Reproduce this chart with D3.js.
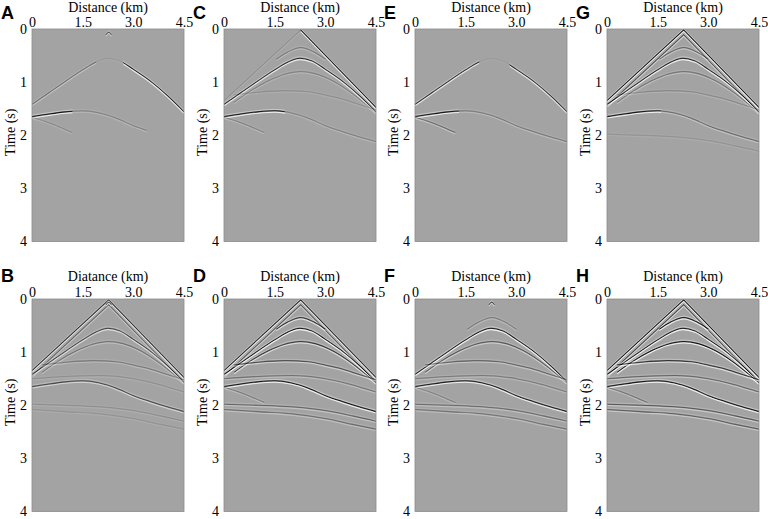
<!DOCTYPE html>
<html>
<head>
<meta charset="utf-8">
<script src="https://cdn.jsdelivr.net/npm/d3@7"></script>
<style>
  body { margin: 0; background: #fff; }
  svg { display: block; }
  .serif { font-family: "Liberation Serif", "Times New Roman", Times, "DejaVu Serif", serif; }
</style>
</head>
<body>
<svg id="fig"></svg>
<script>
const width = 768;
const height = 519;

// Axis ticks
const distTicks = [0, 1.5, 3.0, 4.5];
const distTickLabels = ["0", "1.5", "3.0", "4.5"];
const timeTicks = [0, 1, 2, 3, 4];

// Panel order: top row then bottom row
const panelIds = ["A", "C", "E", "G", "B", "D", "F", "H"];
const xTitles = ["Distance (km)", "Distance (km)", "Distance (km)", "Distance (km)",
                 "Diatance (km)", "Distance (km)", "Distance (km)", "Distance (km)"];

// Event traces: [distance km, time s]
const directWave  = [[0, 1.35], [2.27, 0.02], [4.5, 1.48]];
const directWave2 = [[0, 1.45], [2.27, 0.11], [4.5, 1.57]];
const apexBlip    = [[2.19, 0.11], [2.27, 0.06], [2.35, 0.11]];
const refl035 = [[1.55, 0.57], [1.9, 0.43], [2.27, 0.35], [2.65, 0.43], [3.0, 0.57]];
const refl055 = [[0, 1.42], [0.5, 1.2], [1.0, 0.98], [1.5, 0.77], [1.9, 0.62], [2.25, 0.55],
                 [2.6, 0.6], [3.0, 0.76], [3.5, 0.98], [4.0, 1.25], [4.5, 1.56]];
const refl080 = [[0.3, 1.38], [0.8, 1.16], [1.3, 0.98], [1.8, 0.85], [2.27, 0.8],
                 [2.7, 0.84], [3.2, 0.97], [3.7, 1.17], [4.2, 1.42], [4.5, 1.58]];
const refl120 = [[0.3, 1.24], [1.0, 1.19], [1.8, 1.16], [2.5, 1.18], [2.9, 1.23],
                 [3.4, 1.3], [4.0, 1.42], [4.5, 1.52]];
const refl145 = [[0, 1.5], [1.0, 1.46], [2.0, 1.44], [3.0, 1.5], [3.7, 1.6], [4.5, 1.75]];
const reflMain = [[0, 1.65], [0.5, 1.6], [1.0, 1.56], [1.5, 1.54], [2.0, 1.58], [2.5, 1.68],
                  [3.0, 1.82], [3.5, 1.93], [4.0, 2.03], [4.5, 2.12]];
const diffLimb = [[0, 1.66], [0.4, 1.74], [0.8, 1.84], [1.2, 1.95]];
const reflDeep1 = [[0, 1.98], [1.0, 2.0], [2.0, 2.03], [3.0, 2.1], [3.8, 2.2], [4.5, 2.3]];
const reflDeep2 = [[0, 2.08], [1.0, 2.12], [2.0, 2.16], [3.0, 2.25], [3.8, 2.36], [4.5, 2.45]];

const traces = { directWave, directWave2, apexBlip, refl035, refl055, refl080, refl120,
                 refl145, reflMain, diffLimb, reflDeep1, reflDeep2 };
const straightTraces = ["directWave", "directWave2"];

// Per panel: [trace, amplitude, from km, to km]
const panelA = [["apexBlip", 0.6, 0, 4.5], ["refl055", 0.4, 0, 1.9], ["refl055", 0.08, 1.9, 2.7],
                ["refl055", 0.95, 2.7, 4.5], ["reflMain", 1, 0, 1.2], ["reflMain", 0.25, 1.2, 3.4],
                ["diffLimb", 0.2, 0, 1.2]];
const panelC = [["directWave", 0.15, 0, 2.27], ["directWave", 1, 2.27, 4.5], ["refl035", 0.3, 0, 4.5],
                ["refl055", 0.9, 0, 4.5], ["refl080", 0.25, 0, 4.5], ["refl120", 0.15, 0, 4.5],
                ["reflMain", 1, 0, 1.8], ["reflMain", 0.25, 1.8, 4.5], ["diffLimb", 0.25, 0, 1.2]];
const panelE = [["refl055", 0.85, 0, 1.9], ["refl055", 0.85, 2.8, 4.5], ["refl055", 0.06, 1.9, 2.8],
                ["reflMain", 1, 0, 1.3], ["reflMain", 0.3, 1.3, 4.5], ["diffLimb", 0.4, 0, 1.2]];
const panelG = [["directWave", 1, 0, 4.5], ["directWave2", 0.6, 0, 4.5], ["refl035", 0.45, 0, 4.5],
                ["refl055", 0.95, 0, 4.5], ["refl080", 0.35, 0, 4.5], ["refl120", 0.2, 0, 4.5],
                ["reflMain", 1, 0, 1.6], ["reflMain", 0.4, 1.6, 4.5], ["reflDeep1", 0.12, 0, 4.5]];
const panelB = [["directWave", 0.85, 0, 4.5], ["directWave2", 0.45, 0, 4.5], ["apexBlip", 0.8, 0, 4.5],
                ["refl055", 0.7, 0, 4.5], ["refl080", 0.35, 0, 4.5], ["refl120", 0.3, 0, 4.5],
                ["refl145", 0.15, 0, 4.5], ["reflMain", 0.65, 0, 4.5], ["reflDeep1", 0.15, 0, 4.5],
                ["reflDeep2", 0.12, 0, 4.5]];
const panelD = [["directWave", 0.9, 0, 4.5], ["directWave2", 0.55, 0, 4.5], ["refl035", 0.8, 0, 4.5],
                ["refl055", 1, 0, 4.5], ["refl080", 0.75, 0, 4.5], ["refl120", 0.6, 0, 4.5],
                ["refl145", 0.35, 0, 4.5], ["reflMain", 1, 0, 4.5], ["diffLimb", 0.3, 0, 1.2],
                ["reflDeep1", 0.45, 0, 4.5], ["reflDeep2", 0.4, 0, 4.5]];
const panelF = [["apexBlip", 0.7, 0, 4.5], ["refl035", 0.3, 0, 4.5], ["refl055", 1, 0, 4.5],
                ["refl080", 0.55, 0, 4.5], ["refl120", 0.45, 0, 4.5], ["refl145", 0.3, 0, 4.5],
                ["reflMain", 0.95, 0, 4.5], ["diffLimb", 0.25, 0, 1.2], ["reflDeep1", 0.4, 0, 4.5],
                ["reflDeep2", 0.35, 0, 4.5]];
const panelH = [["directWave", 1, 0, 4.5], ["directWave2", 0.65, 0, 4.5], ["refl035", 1, 0, 4.5],
                ["refl055", 1, 0, 4.5], ["refl080", 1, 0, 4.5], ["refl120", 0.8, 0, 4.5],
                ["refl145", 0.45, 0, 4.5], ["reflMain", 1, 0, 4.5], ["diffLimb", 0.35, 0, 1.2],
                ["reflDeep1", 0.55, 0, 4.5], ["reflDeep2", 0.5, 0, 4.5]];
const panelEvents = [panelA, panelC, panelE, panelG, panelB, panelD, panelF, panelH];

// Layout
const colLeft = [32, 224, 415, 607];
const rowTop = [29, 299];
const plotW = 152;
const plotH = 212.5;

const svg = d3.select("#fig")
    .attr("width", width)
    .attr("height", height);

const x = d3.scaleLinear().domain([0, 4.5]).range([0, plotW]);
const y = d3.scaleLinear().domain([0, 4]).range([0, plotH]);

panelIds.forEach((id, pi) => {
    const col = pi % 4, row = Math.floor(pi / 4);
    const g = svg.append("g")
        .attr("transform", `translate(${colLeft[col]},${rowTop[row]})`);

    // clip for the section
    svg.append("clipPath").attr("id", `plot${pi}`)
        .append("rect").attr("width", plotW).attr("height", plotH);

    g.append("rect")
        .attr("width", plotW)
        .attr("height", plotH)
        .attr("fill", "#a3a3a3");

    const ev = g.append("g").attr("clip-path", `url(#plot${pi})`);

    panelEvents[pi].forEach(([name, amp, x0, x1], ei) => {
        const cid = `ev${pi}_${ei}`;
        svg.append("clipPath").attr("id", cid)
            .append("rect")
            .attr("x", x(x0)).attr("width", x(x1) - x(x0))
            .attr("y", -5).attr("height", plotH + 10);

        const line = d3.line()
            .x(d => x(d[0]))
            .y(d => y(d[1]))
            .curve(straightTraces.includes(name) ? d3.curveLinear : d3.curveMonotoneX);

        const eg = ev.append("g").attr("clip-path", `url(#${cid})`);
        // wavelet: faint white lobe, black trough, white peak
        eg.append("path").attr("d", line(traces[name]))
            .attr("fill", "none").attr("stroke", "#fff")
            .attr("stroke-width", 0.9).attr("stroke-opacity", amp * 0.45)
            .attr("transform", "translate(0,-1.4)");
        eg.append("path").attr("d", line(traces[name]))
            .attr("fill", "none").attr("stroke", "#000")
            .attr("stroke-width", 1.05).attr("stroke-opacity", amp * 0.85);
        eg.append("path").attr("d", line(traces[name]))
            .attr("fill", "none").attr("stroke", "#fff")
            .attr("stroke-width", 1.05).attr("stroke-opacity", amp * 0.85)
            .attr("transform", "translate(0,1.4)");
    });

    g.append("rect")
        .attr("width", plotW)
        .attr("height", plotH)
        .attr("fill", "none")
        .attr("stroke", "#8a8a8a")
        .attr("stroke-width", 0.8);

    // axes
    const xAxis = g.append("g")
        .call(d3.axisTop(x).tickValues(distTicks)
            .tickFormat((d, i) => distTickLabels[i]).tickSize(0).tickPadding(2.5));
    const yAxis = g.append("g")
        .call(d3.axisLeft(y).tickValues(timeTicks)
            .tickFormat(d3.format("d")).tickSize(0).tickPadding(5));
    [xAxis, yAxis].forEach(a => {
        a.select(".domain").remove();
        a.attr("font-family", null).attr("font-size", 14);
        a.selectAll("text").attr("fill", "#000").attr("class", "serif");
    });

    g.append("text")
        .attr("class", "serif")
        .attr("x", plotW / 2)
        .attr("y", row === 0 ? -17 : -18)
        .attr("text-anchor", "middle")
        .attr("font-size", 14)
        .text(xTitles[pi]);

    g.append("text")
        .attr("class", "serif")
        .attr("transform", `translate(${-17},${plotH / 2 - 3}) rotate(-90)`)
        .attr("text-anchor", "middle")
        .attr("font-size", 14)
        .text("Time (s)");

    g.append("text")
        .attr("x", -31)
        .attr("y", row === 0 ? -10 : -17)
        .attr("font-family", "Liberation Sans, Arial, sans-serif")
        .attr("font-weight", "bold")
        .attr("font-size", 18)
        .text(id);
});
</script>
</body>
</html>
